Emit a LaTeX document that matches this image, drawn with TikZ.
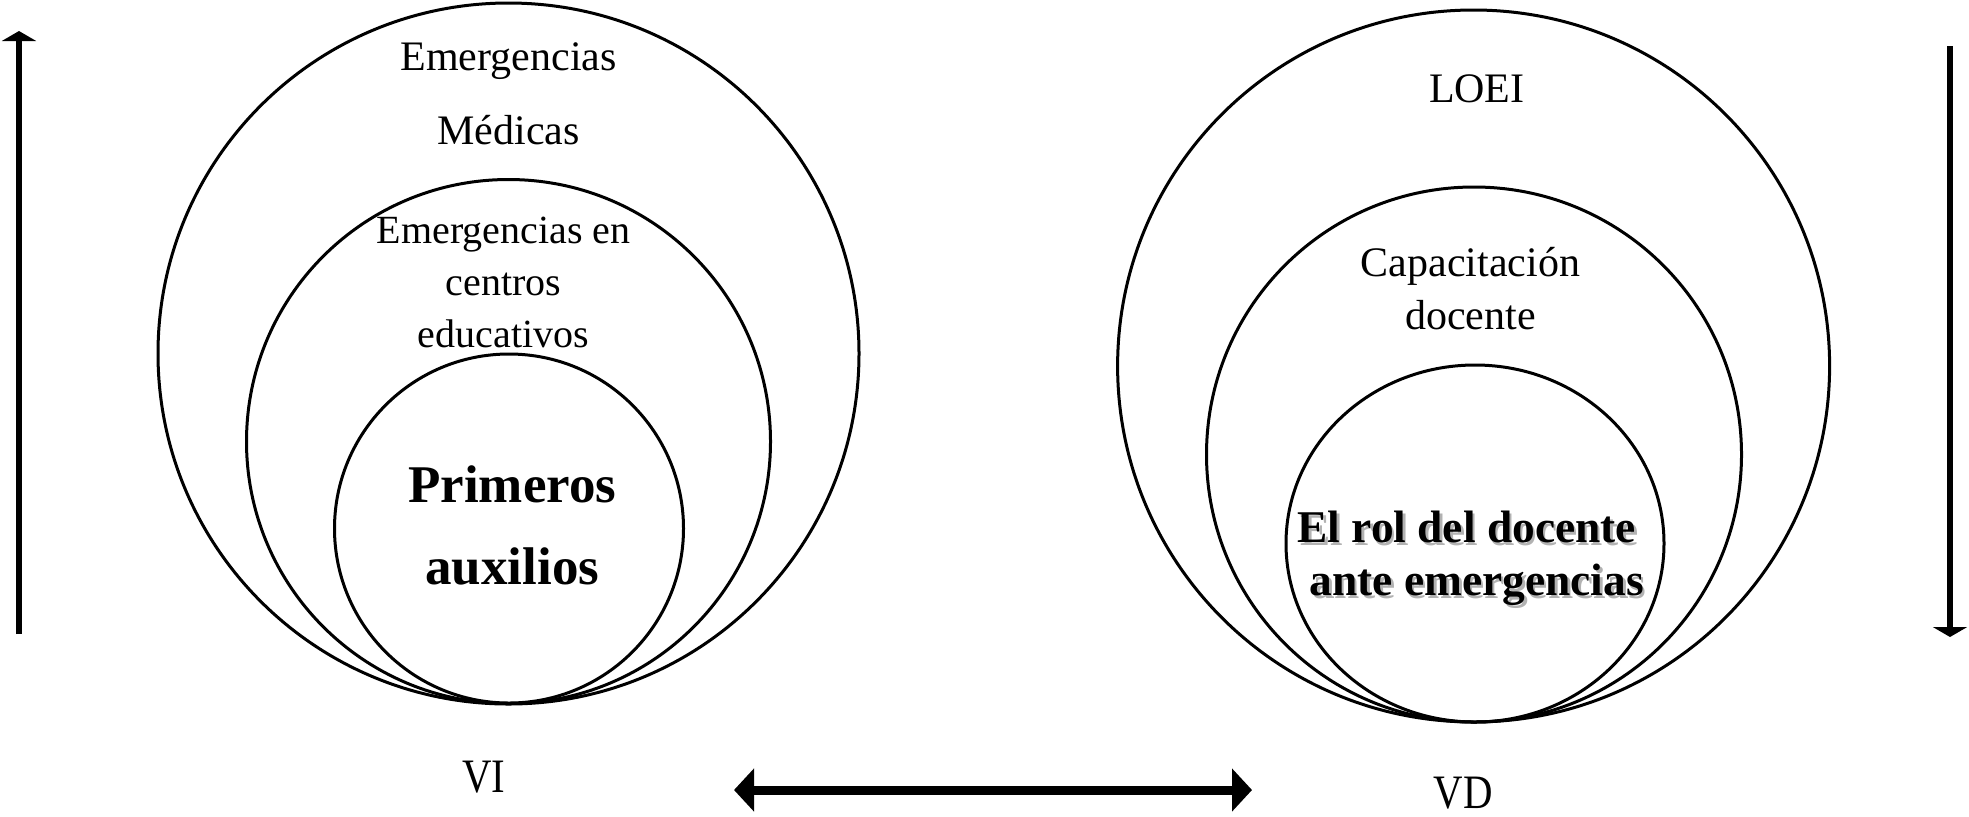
\documentclass[tikz,border=0pt]{standalone}
\usepackage{fontspec}
\setmainfont{Liberation Serif}
\usetikzlibrary{arrows.meta,shapes.geometric}
\tikzset{
  ring/.style={draw=black, line width=1.5pt, circle, inner sep=0pt, minimum size=#1},
  lbl/.style={inner sep=0pt, font=\fontsize{21}{25}\selectfont},
  lblm/.style={inner sep=0pt, font=\fontsize{20}{24}\selectfont},
  bigb/.style={inner sep=0pt, font=\fontsize{26.5}{31}\selectfont\bfseries},
  rolb/.style={inner sep=0pt, font=\fontsize{22.7}{27}\selectfont\bfseries},
  var/.style={inner sep=0pt, font=\fontsize{24}{28}\selectfont},
  bigarrow/.style={line width=3pt, -{Triangle[width=17pt,length=5pt]}},
  dblarrow/.style={line width=4.5pt, {Triangle[width=21pt,length=10pt]}-{Triangle[width=21pt,length=10pt]}},
}
\begin{document}
\begin{tikzpicture}[x=0.5pt,y=-0.5pt]
\useasboundingbox (0,0) rectangle (1969,816);
% left circles
\node[ring=350.5pt] (lo) at (508.5,353.5) {};
\node[ring=262pt] (lm) at (508.5,441.5) {};
\node[ring=174.5pt] (li) at (509,528.5) {};
% right circles
\node[ring=356pt] (ro) at (1473.6,366) {};
\node[ring=267.5pt] (rm) at (1474,454.5) {};
\node[draw=black, line width=1.5pt, ellipse, inner sep=0pt, minimum width=189pt, minimum height=178.5pt] (ri) at (1475,543.5) {};
% left texts
\node[lbl] (t1) at (508.6,61) {Emergencias};
\node[lbl] (t2) at (508.6,130.5) {Médicas};
\node[lblm] (t3) at (503.5,234.6) {Emergencias en};
\node[lblm] (t4) at (503.5,284.8) {centros};
\node[lblm] (t5) at (503.5,333.8) {educativos};
\node[bigb] (t6) at (512.3,484.7) {Primeros};
\node[bigb] (t7) at (512.3,566.3) {auxilios};
% right texts
\node[lbl] (r1) at (1476.8,88.9) {LOEI};
\node[lbl] (r2) at (1470.5,266.2) {Capacitación};
\node[lbl] (r3) at (1470.5,315.2) {docente};
\node[rolb, text=black!30] (r4s) at (1469.2,529.9) {El rol del docente};
\node[rolb, text=black!30] (r5s) at (1479.3,587.7) {ante emergencias};
\node[rolb] (r4) at (1466.7,527.4) {El rol del docente};
\node[rolb] (r5) at (1476.8,585.2) {ante emergencias};
% variables
\node[var] (vi) at (484,777) {\scalebox{0.85}[1]{VI}};
\node[var] (vd) at (1463,793) {\scalebox{0.85}[1]{VD}};
% arrows
\coordinate (la0) at (19,634);
\coordinate (la1) at (19,31);
\coordinate (ra0) at (1950,46);
\coordinate (ra1) at (1950,637);
\coordinate (ha0) at (734,790);
\coordinate (ha1) at (1252,790);
\draw[bigarrow] (la0) -- (la1);
\draw[bigarrow] (ra0) -- (ra1);
\draw[dblarrow] (ha0) -- (ha1);
\end{tikzpicture}
\end{document}
